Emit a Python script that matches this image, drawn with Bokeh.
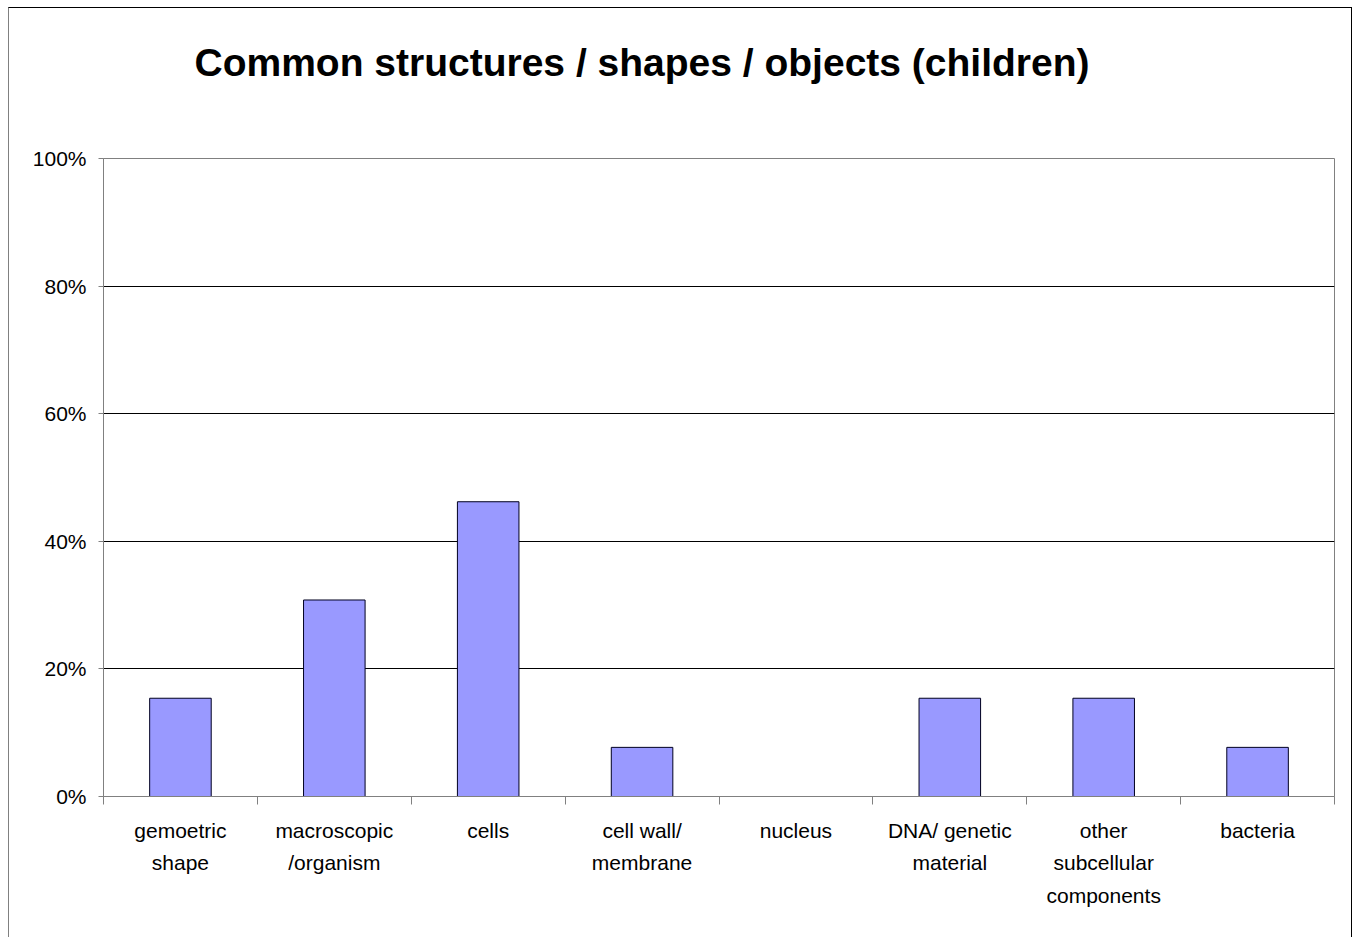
from bokeh.plotting import figure
from bokeh.models import (FixedTicker, NumeralTickFormatter, LinearAxis, Range1d)
from bokeh.embed import file_html
from bokeh.resources import INLINE

categories = ["gemoetric\nshape", "macroscopic\n/organism", "cells", "cell wall/\nmembrane",
              "nucleus", "DNA/ genetic\nmaterial", "other\nsubcellular\ncomponents", "bacteria"]
values = [0.154, 0.308, 0.462, 0.077, 0.0, 0.154, 0.154, 0.077]
y_ticks = [0.0, 0.2, 0.4, 0.6, 0.8, 1.0]
title_text = "Common structures / shapes / objects (children)"

FONT = "Liberation Sans"
n = len(categories)
xs = [i + 0.5 for i in range(n)]

p = figure(width=1344, height=930, output_backend="svg", toolbar_location=None,
           x_range=Range1d(0, n), y_range=Range1d(0, 1),
           min_border_left=94, min_border_right=19, min_border_top=150, min_border_bottom=142,
           x_axis_location=None, title=title_text + "\n")
p.styles = {"border-top": "1px solid #000000", "border-left": "1px solid #808080",
            "border-right": "1px solid #000000", "box-sizing": "border-box",
            "margin-left": "8px", "margin-top": "7px"}
p.outline_line_color = "#808080"
p.outline_line_width = 1
p.background_fill_color = "white"
p.border_fill_color = "white"

p.title.text_font = FONT
p.title.text_font_size = "39px"
p.title.text_font_style = "bold"
p.title.text_color = "black"
p.title.text_line_height = 1.1
p.title.align = "left"
p.title.offset = 91
p.title.standoff = 54

p.vbar(x=xs, top=values, width=0.4, bottom=0, fill_color="#9999FF",
       line_color="#000020", line_width=1)

# y axis
p.yaxis.ticker = FixedTicker(ticks=y_ticks)
p.yaxis.formatter = NumeralTickFormatter(format="0%")
p.yaxis.major_label_text_font = FONT
p.yaxis.major_label_text_font_size = "21px"
p.yaxis.major_label_text_color = "black"
p.yaxis.major_tick_in = 0
p.yaxis.major_tick_out = 5
p.yaxis.minor_tick_line_color = None
p.yaxis.axis_line_color = "#808080"
p.yaxis.major_tick_line_color = "#808080"
p.yaxis.major_label_standoff = 12

p.xgrid.visible = False
p.ygrid.ticker = FixedTicker(ticks=y_ticks)
p.ygrid.grid_line_color = "black"
p.ygrid.grid_line_width = 1

# x axis with boundary ticks (no labels)
xa = LinearAxis(ticker=FixedTicker(ticks=list(range(n + 1))))
xa.major_label_text_color = None
xa.major_label_text_font_size = "1px"
xa.major_label_standoff = 0
xa.major_tick_in = 0
xa.major_tick_out = 8
xa.minor_tick_line_color = None
xa.axis_line_color = "#808080"
xa.major_tick_line_color = "#808080"
p.add_layout(xa, "below")

# x axis with category labels
xl = LinearAxis(ticker=FixedTicker(ticks=xs))
xl.major_label_overrides = {x: c for x, c in zip(xs, categories)}
xl.major_label_text_font = FONT
xl.major_label_text_font_size = "21px"
xl.major_label_text_color = "black"
xl.major_label_text_line_height = 1.42
xl.major_tick_in = 0
xl.major_tick_out = 0
xl.major_tick_line_color = None
xl.minor_tick_line_color = None
xl.axis_line_color = None
xl.major_label_standoff = 14
p.add_layout(xl, "below")

open("out.html", "w").write(file_html(p, INLINE))
